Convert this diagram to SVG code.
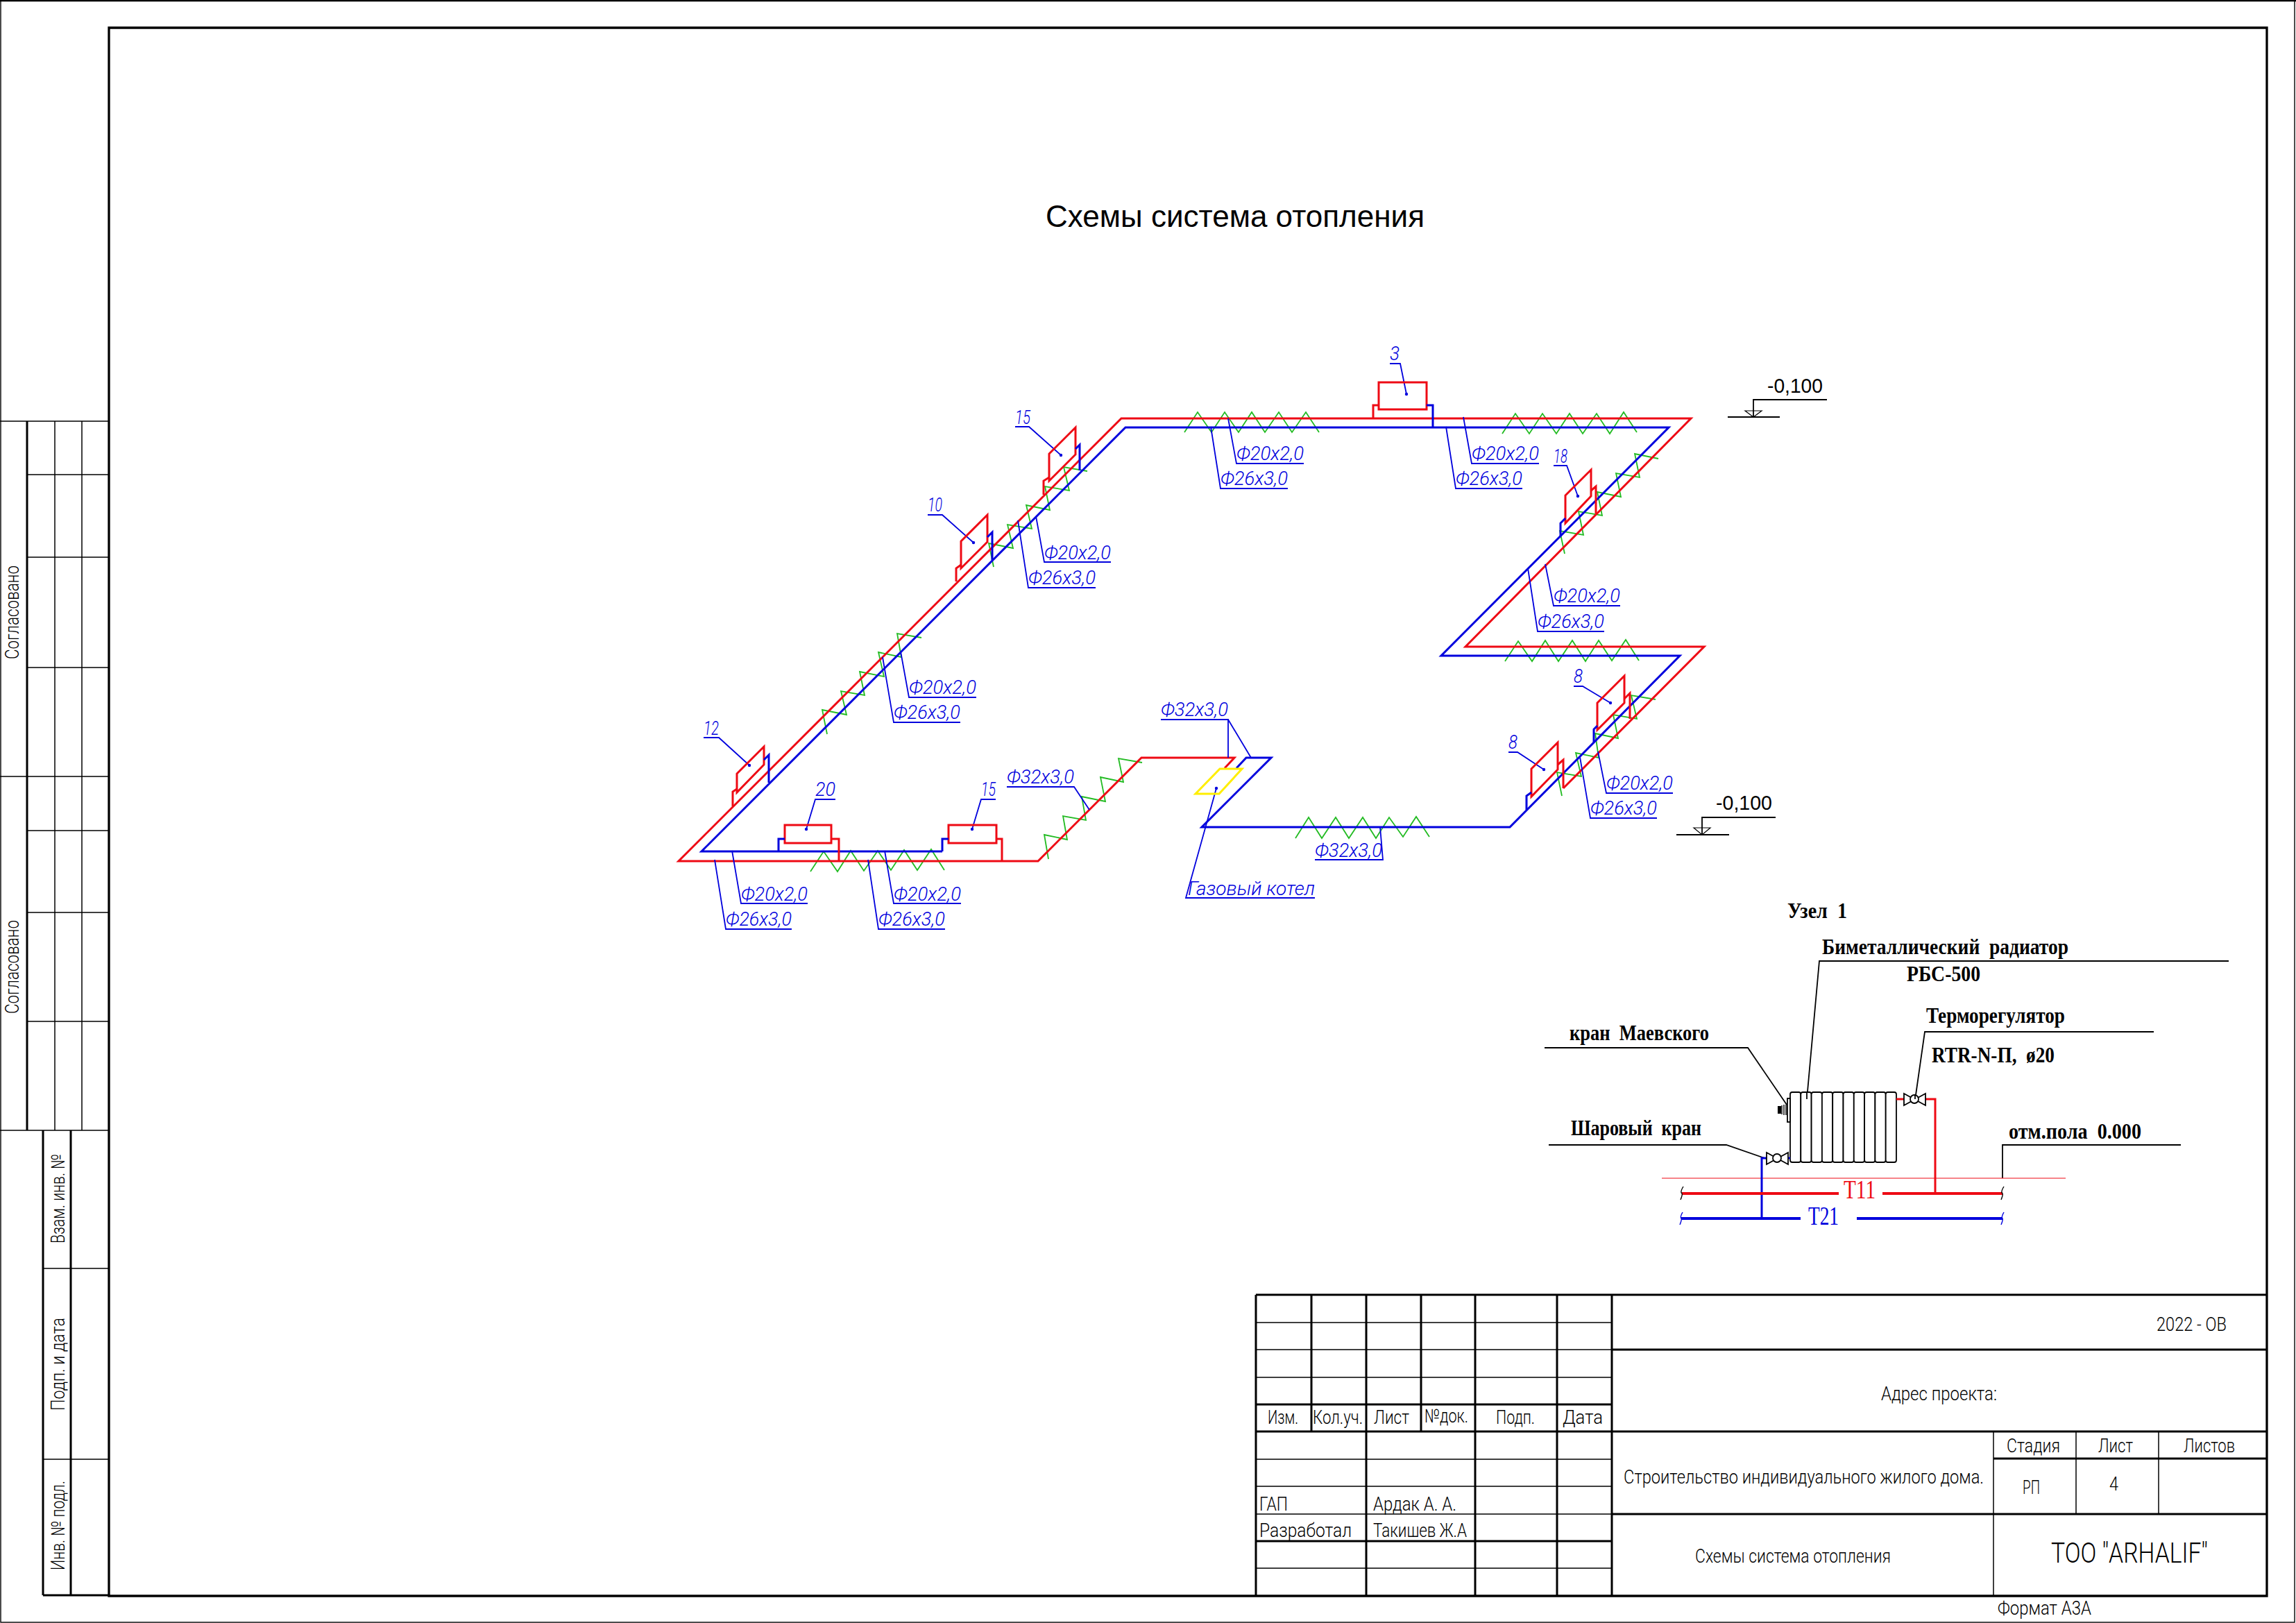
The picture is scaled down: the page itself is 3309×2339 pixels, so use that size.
<svg xmlns="http://www.w3.org/2000/svg" width="3309" height="2339" viewBox="0 0 3309 2339">
<style>
text{white-space:pre}
.k{fill:none;stroke:#000;stroke-width:3}
.m{fill:none;stroke:#000;stroke-width:1.5}
.rp{fill:none;stroke:#ee0a14;stroke-width:3;stroke-linejoin:miter}
.bp{fill:none;stroke:#0000dd;stroke-width:3}
.gz{fill:none;stroke:#22bb22;stroke-width:1.8}
.ld{fill:none;stroke:#0000dd;stroke-width:1.8}
.kl{fill:none;stroke:#000;stroke-width:1.8}
.l{font-family:"Roboto","Liberation Sans",sans-serif;font-style:italic;font-weight:300;font-size:27px;fill:#0000dd}
.t{font-family:"Roboto","Liberation Sans",sans-serif;font-weight:300;font-size:27px;fill:#000}
.d{font-family:"Liberation Serif",serif;font-weight:bold;font-size:32px;word-spacing:8px;fill:#000}
.e{font-family:"Liberation Sans",sans-serif;font-size:30px;fill:#000}
</style>
<defs>
<marker id="dot" markerUnits="userSpaceOnUse" markerWidth="6" markerHeight="6" refX="3" refY="3"><circle cx="3" cy="3" r="2.2" fill="#0000dd"/></marker>
</defs>
<g id="frame">
<rect fill="none" stroke="#000" stroke-width="1.4" x="1" y="1" width="3306" height="2337"/>
<path fill="none" stroke="#000" stroke-width="2.4" d="M0 1H3309"/>
<path fill="none" stroke="#000" stroke-width="3.3" d="M157 40H3267V2300H157Z"/>
</g>
<g id="side-stamp">
<path class="k" d="M39 607V1629M62 1629V2299M102 1629V2299M62 2299H157"/>
<path class="m" d="M0 607H157M0 1119H157M0 1629H157M79 607V1629M118 607V1629M39 684H157M39 803H157M39 962H157M39 1197H157M39 1315H157M39 1472H157M62 1828H157M62 2103H157"/>
<text class="t" transform="translate(27,950) rotate(-90)" textLength="135" lengthAdjust="spacingAndGlyphs">Согласовано</text>
<text class="t" transform="translate(27,1461) rotate(-90)" textLength="135" lengthAdjust="spacingAndGlyphs">Согласовано</text>
<text class="t" transform="translate(93,1792) rotate(-90)" textLength="129" lengthAdjust="spacingAndGlyphs">Взам. инв. №</text>
<text class="t" transform="translate(93,2033) rotate(-90)" textLength="134" lengthAdjust="spacingAndGlyphs">Подп. и дата</text>
<text class="t" transform="translate(93,2263) rotate(-90)" textLength="129" lengthAdjust="spacingAndGlyphs">Инв. № подл.</text>
</g>
<g id="title-block">
<path class="k" d="M1810 1866H3267M1810 2024H2323M1810 2063H3267M1810 2221H2323M2323 1945H3267M2323 2182H3267M2873 2102H3267M1810 1866V2300M1890 1866V2063M1969 1866V2300M2048 1866V2063M2126 1866V2300M2244 1866V2300M2323 1866V2300"/>
<path class="m" d="M1810 1906H2323M1810 1945H2323M1810 1985H2323M1810 2103H2323M1810 2142H2323M1810 2182H2323M1810 2260H2323M2873 2063V2300M2992 2063V2182M3111 2063V2182"/>
<text class="t" x="1827" y="2052" textLength="44" lengthAdjust="spacingAndGlyphs">Изм.</text>
<text class="t" x="1892" y="2052" textLength="72" lengthAdjust="spacingAndGlyphs">Кол.уч.</text>
<text class="t" x="1980" y="2052" textLength="51" lengthAdjust="spacingAndGlyphs">Лист</text>
<text class="t" x="2053" y="2050" textLength="63" lengthAdjust="spacingAndGlyphs">№док.</text>
<text class="t" x="2156" y="2052" textLength="56" lengthAdjust="spacingAndGlyphs">Подп.</text>
<text class="t" x="2252" y="2052" textLength="58" lengthAdjust="spacingAndGlyphs">Дата</text>
<text class="t" x="1815" y="2177" textLength="41" lengthAdjust="spacingAndGlyphs">ГАП</text>
<text class="t" x="1979" y="2177" textLength="120" lengthAdjust="spacingAndGlyphs">Ардак А. А.</text>
<text class="t" x="1815" y="2215" textLength="133" lengthAdjust="spacingAndGlyphs">Разработал</text>
<text class="t" x="1979" y="2215" textLength="135" lengthAdjust="spacingAndGlyphs">Такишев Ж.А</text>
<text class="t" x="3108" y="1918" textLength="101" lengthAdjust="spacingAndGlyphs">2022 - ОВ</text>
<text class="t" x="2711" y="2018" textLength="167" lengthAdjust="spacingAndGlyphs">Адрес проекта:</text>
<text class="t" x="2340" y="2138" textLength="519" lengthAdjust="spacingAndGlyphs">Строительство индивидуального жилого дома.</text>
<text class="t" x="2443" y="2252" textLength="282" lengthAdjust="spacingAndGlyphs">Схемы система отопления</text>
<text class="t" x="2892" y="2093" textLength="77" lengthAdjust="spacingAndGlyphs">Стадия</text>
<text class="t" x="3024" y="2093" textLength="50" lengthAdjust="spacingAndGlyphs">Лист</text>
<text class="t" x="3147" y="2093" textLength="74" lengthAdjust="spacingAndGlyphs">Листов</text>
<text class="t" x="2915" y="2153" textLength="25" lengthAdjust="spacingAndGlyphs">РП</text>
<text class="t" x="3040" y="2148" textLength="13" lengthAdjust="spacingAndGlyphs">4</text>
<text class="t" style="font-size:40px" x="2956" y="2252" textLength="226" lengthAdjust="spacingAndGlyphs">ТОО "ARHALIF"</text>
<text class="t" x="2879" y="2327" textLength="135" lengthAdjust="spacingAndGlyphs">Формат А3А</text>
</g>
<text id="title" x="1507" y="327" font-family="Liberation Sans, sans-serif" font-size="44" textLength="546" lengthAdjust="spacingAndGlyphs">Схемы система отопления</text>
<g id="elevation-top">
<text class="e" x="2547" y="566" textLength="80" lengthAdjust="spacingAndGlyphs">-0,100</text>
<path class="kl" d="M2633 576H2527V601M2490 601H2565"/>
<path fill="none" stroke="#000" stroke-width="1.2" d="M2515 592H2539L2527 601Z"/>
</g>
<g id="elevation-bottom">
<text class="e" x="2473" y="1167" textLength="81" lengthAdjust="spacingAndGlyphs">-0,100</text>
<path class="kl" d="M2559 1178H2453V1203M2416 1203H2492"/>
<path fill="none" stroke="#000" stroke-width="1.2" d="M2441 1193H2465L2453 1203Z"/>
</g>
<g id="connectors">
<g id="insulation">
<polyline class="gz" points="1707,623 1726,594 1746,623 1765,594 1785,623 1804,594 1823,623 1843,594 1862,623 1882,594 1901,623"/>
<polyline class="gz" points="2165,625 2184,596 2204,625 2223,596 2243,625 2262,596 2281,625 2301,596 2320,625 2340,594 2359,623"/>
<polyline class="gz" points="1168,1256 1187,1227 1207,1256 1226,1226 1245,1255 1265,1226 1284,1254 1303,1225 1322,1254 1342,1224 1361,1254"/>
<polyline class="gz" points="1867,1208 1886,1178 1905,1208 1925,1178 1944,1208 1964,1178 1983,1208 2002,1178 2022,1206 2041,1177 2060,1206"/>
<polyline class="gz" points="2169,953 2188,924 2208,953 2227,923 2246,953 2266,923 2285,953 2304,923 2323,952 2343,922 2362,952"/>
<polyline class="gz" points="1192,1058 1185,1023 1220,1030 1212,996 1246,1002 1239,968 1274,975 1266,940 1299,947 1293,913 1328,919"/>
<polyline class="gz" points="1432,817 1425,783 1460,790 1452,756 1487,762 1479,728 1513,735 1506,701 1541,707 1533,673 1567,679"/>
<polyline class="gz" points="2255,798 2248,765 2282,771 2275,737 2309,743 2302,709 2336,716 2329,682 2363,688 2356,654 2390,661"/>
<polyline class="gz" points="2251,1147 2244,1113 2279,1119 2271,1085 2304,1092 2299,1057 2332,1064 2325,1030 2359,1036 2351,1002 2386,1008"/>
<polyline class="gz" points="1511,1238 1505,1203 1538,1210 1532,1176 1565,1182 1559,1148 1593,1155 1586,1120 1619,1127 1612,1093 1646,1099"/>
</g>
<g id="supply-pipe">
<path class="rp" d="M1765 1107L1779 1092H1645L1496 1241H978L1616 603H2437L2112 932H2456L2253 1136"/>
</g>
<g id="return-pipe">
<path class="bp" d="M1358 1227H1011L1622 616H2405L2077 945H2421L2176 1192H1732L1832 1092H1796L1782 1107"/>
</g>
<g id="leaders">
<path class="ld" d="M1164 1302H1068L1055 1226"/>
<path class="ld" d="M1141 1339H1046L1030 1239"/>
<path class="ld" d="M1385 1302H1288L1275 1226"/>
<path class="ld" d="M1362 1339H1266L1251 1239"/>
<path class="ld" d="M1451 1134H1548L1570 1167"/>
<path class="ld" d="M1407 1005H1310L1298 939"/>
<path class="ld" d="M1384 1041H1288L1272 947"/>
<path class="ld" d="M1601 810H1505L1493 744"/>
<path class="ld" d="M1579 847H1482L1467 750"/>
<path class="ld" d="M1879 668H1782L1770 603"/>
<path class="ld" d="M1856 704H1759L1745 615"/>
<path class="ld" d="M2218 668H2121L2109 601"/>
<path class="ld" d="M2194 704H2098L2084 615"/>
<path class="ld" d="M2335 873H2239L2227 813"/>
<path class="ld" d="M2312 910H2216L2202 819"/>
<path class="ld" d="M2411 1143H2315L2303 1083"/>
<path class="ld" d="M2388 1179H2292L2277 1091"/>
<path class="ld" d="M1673 1037H1770V1092M1770 1037L1803 1092"/>
<path class="ld" d="M1895 1239H1993L1989 1192"/>
<path class="ld" marker-end="url(#dot)" d="M1895 1294H1709L1753 1136"/>
<path class="ld" marker-end="url(#dot)" d="M1014 1063H1036L1080 1103"/>
<path class="ld" marker-end="url(#dot)" d="M1337 742H1358L1403 782"/>
<path class="ld" marker-end="url(#dot)" d="M1463 615H1483L1529 656"/>
<path class="ld" marker-end="url(#dot)" d="M1204 1152H1175L1162 1195"/>
<path class="ld" marker-end="url(#dot)" d="M1435 1152H1414L1401 1195"/>
<path class="ld" marker-end="url(#dot)" d="M2003 524H2018L2027 568"/>
<path class="ld" marker-end="url(#dot)" d="M2239 671H2258L2274 715"/>
<path class="ld" marker-end="url(#dot)" d="M2268 989H2281L2321 1013"/>
<path class="ld" marker-end="url(#dot)" d="M2174 1084H2187L2225 1109"/>
</g>
</g>
<g id="boiler"><path d="M1758 1108H1790L1757 1144H1723Z" fill="none" stroke="#ffee00" stroke-width="3"/></g>
<g id="labels">
<text class="l" x="1068" y="1298" textLength="96" lengthAdjust="spacingAndGlyphs">Ф20х2,0</text>
<text class="l" x="1046" y="1334" textLength="95" lengthAdjust="spacingAndGlyphs">Ф26х3,0</text>
<text class="l" x="1288" y="1298" textLength="97" lengthAdjust="spacingAndGlyphs">Ф20х2,0</text>
<text class="l" x="1266" y="1334" textLength="96" lengthAdjust="spacingAndGlyphs">Ф26х3,0</text>
<text class="l" x="1451" y="1129" textLength="97" lengthAdjust="spacingAndGlyphs">Ф32х3,0</text>
<text class="l" x="1310" y="1000" textLength="97" lengthAdjust="spacingAndGlyphs">Ф20х2,0</text>
<text class="l" x="1288" y="1036" textLength="96" lengthAdjust="spacingAndGlyphs">Ф26х3,0</text>
<text class="l" x="1505" y="806" textLength="96" lengthAdjust="spacingAndGlyphs">Ф20х2,0</text>
<text class="l" x="1482" y="842" textLength="97" lengthAdjust="spacingAndGlyphs">Ф26х3,0</text>
<text class="l" x="1782" y="663" textLength="97" lengthAdjust="spacingAndGlyphs">Ф20х2,0</text>
<text class="l" x="1759" y="699" textLength="97" lengthAdjust="spacingAndGlyphs">Ф26х3,0</text>
<text class="l" x="2121" y="663" textLength="97" lengthAdjust="spacingAndGlyphs">Ф20х2,0</text>
<text class="l" x="2098" y="699" textLength="96" lengthAdjust="spacingAndGlyphs">Ф26х3,0</text>
<text class="l" x="2239" y="868" textLength="96" lengthAdjust="spacingAndGlyphs">Ф20х2,0</text>
<text class="l" x="2216" y="905" textLength="96" lengthAdjust="spacingAndGlyphs">Ф26х3,0</text>
<text class="l" x="2315" y="1138" textLength="96" lengthAdjust="spacingAndGlyphs">Ф20х2,0</text>
<text class="l" x="2292" y="1174" textLength="96" lengthAdjust="spacingAndGlyphs">Ф26х3,0</text>
<text class="l" x="1673" y="1032" textLength="97" lengthAdjust="spacingAndGlyphs">Ф32х3,0</text>
<text class="l" x="1895" y="1235" textLength="97" lengthAdjust="spacingAndGlyphs">Ф32х3,0</text>
<text class="l" x="1712" y="1290" textLength="183" lengthAdjust="spacingAndGlyphs">Газовый котел</text>
<text class="l" x="1014" y="1059" textLength="22" lengthAdjust="spacingAndGlyphs">12</text>
<text class="l" x="1337" y="737" textLength="21" lengthAdjust="spacingAndGlyphs">10</text>
<text class="l" x="1463" y="611" textLength="22" lengthAdjust="spacingAndGlyphs">15</text>
<text class="l" x="1175" y="1147" textLength="29" lengthAdjust="spacingAndGlyphs">20</text>
<text class="l" x="1414" y="1147" textLength="21" lengthAdjust="spacingAndGlyphs">15</text>
<text class="l" x="2003" y="519" textLength="14" lengthAdjust="spacingAndGlyphs">3</text>
<text class="l" x="2239" y="667" textLength="20" lengthAdjust="spacingAndGlyphs">18</text>
<text class="l" x="2268" y="984" textLength="13" lengthAdjust="spacingAndGlyphs">8</text>
<text class="l" x="2174" y="1079" textLength="13" lengthAdjust="spacingAndGlyphs">8</text>
</g>
<g id="radiator-12">
<path class="rp" d="M1062 1115L1101 1076V1102L1062 1142Z"/>
<path class="rp" d="M1056 1162V1141L1062 1137"/>
<path class="bp" d="M1108 1128V1088L1101 1095"/>
</g>
<g id="radiator-10">
<path class="rp" d="M1385 780L1423 742V781L1385 819Z"/>
<path class="rp" d="M1378 838V819L1385 814"/>
<path class="bp" d="M1430 807V767L1423 774"/>
</g>
<g id="radiator-15a">
<path class="rp" d="M1512 654L1550 616V655L1512 693Z"/>
<path class="rp" d="M1504 713V693L1512 688"/>
<path class="bp" d="M1556 678V641L1550 647"/>
</g>
<g id="radiator-20">
<rect class="rp" x="1131" y="1189" width="67" height="26"/>
<path class="bp" d="M1122 1227V1209H1131"/>
<path class="rp" d="M1198 1209H1209V1241"/>
</g>
<g id="radiator-15b">
<rect class="rp" x="1367" y="1189" width="69" height="26"/>
<path class="bp" d="M1358 1227V1209H1367"/>
<path class="rp" d="M1436 1209H1444V1241"/>
</g>
<g id="radiator-3">
<rect class="rp" x="1987" y="551" width="69" height="39"/>
<path class="rp" d="M1979 602V584H1987"/>
<path class="bp" d="M2065 616V584H2056"/>
</g>
<g id="radiator-18">
<path class="rp" d="M2256 714L2293 677V715L2256 754Z"/>
<path class="rp" d="M2300 740V701L2293 707"/>
<path class="bp" d="M2249 773V754L2256 747"/>
</g>
<g id="radiator-8a">
<path class="rp" d="M2302 1013L2341 974V1013L2302 1052Z"/>
<path class="rp" d="M2349 1036V999L2341 1007"/>
<path class="bp" d="M2297 1070V1051L2302 1046"/>
</g>
<g id="radiator-8b">
<path class="rp" d="M2207 1108L2245 1070V1109L2207 1148Z"/>
<path class="rp" d="M2253 1136V1095L2245 1102"/>
<path class="bp" d="M2200 1167V1147L2207 1142"/>
</g>
<g id="detail-node">
<text class="d" x="2576" y="1323" textLength="86" lengthAdjust="spacingAndGlyphs">Узел 1</text>
<text class="d" x="2626" y="1375" textLength="355" lengthAdjust="spacingAndGlyphs">Биметаллический радиатор</text>
<text class="d" x="2748" y="1414" textLength="106" lengthAdjust="spacingAndGlyphs">РБС-500</text>
<text class="d" x="2776" y="1474" textLength="200" lengthAdjust="spacingAndGlyphs">Терморегулятор</text>
<text class="d" x="2784" y="1531" textLength="177" lengthAdjust="spacingAndGlyphs">RTR-N-П, ø20</text>
<text class="d" x="2262" y="1499" textLength="201" lengthAdjust="spacingAndGlyphs">кран Маевского</text>
<text class="d" x="2264" y="1636" textLength="188" lengthAdjust="spacingAndGlyphs">Шаровый кран</text>
<text class="d" x="2895" y="1641" textLength="191" lengthAdjust="spacingAndGlyphs">отм.пола 0.000</text>
<text x="2657" y="1727" font-family="Liberation Serif, serif" font-size="38" fill="#ee0a14" textLength="46" lengthAdjust="spacingAndGlyphs">Т11</text>
<text x="2606" y="1765" font-family="Liberation Serif, serif" font-size="38" fill="#0000dd" textLength="44" lengthAdjust="spacingAndGlyphs">Т21</text>
<path class="kl" d="M3212 1385H2622L2604 1584"/>
<path class="kl" d="M3104 1487H2774L2761 1578"/>
<path class="kl" d="M2226 1510H2519L2575 1592"/>
<path class="kl" d="M2232 1650H2488L2546 1670"/>
<path class="kl" d="M3143 1650H2886V1698"/>
<path fill="none" stroke="#ee0a14" stroke-width="1" d="M2395 1698H2977"/>
<g fill="#fff" stroke="#000" stroke-width="1.8">
<rect x="2580" y="1574" width="15.3" height="101" rx="3"/>
<rect x="2595.3" y="1574" width="15.3" height="101" rx="3"/>
<rect x="2610.6" y="1574" width="15.3" height="101" rx="3"/>
<rect x="2625.9" y="1574" width="15.3" height="101" rx="3"/>
<rect x="2641.2" y="1574" width="15.3" height="101" rx="3"/>
<rect x="2656.5" y="1574" width="15.3" height="101" rx="3"/>
<rect x="2671.8" y="1574" width="15.3" height="101" rx="3"/>
<rect x="2687.1" y="1574" width="15.3" height="101" rx="3"/>
<rect x="2702.4" y="1574" width="15.3" height="101" rx="3"/>
<rect x="2717.7" y="1574" width="15.3" height="101" rx="3"/>
<rect x="2576" y="1583" width="4" height="34"/>
</g>
<path class="kl" d="M2604 1574V1584"/>
<rect x="2562" y="1594" width="5" height="11" fill="#000"/>
<path fill="none" stroke="#000" stroke-width="1.4" d="M2568 1593V1606M2571 1592V1607M2574 1592V1607"/>
<path class="rp" d="M2733 1584H2745M2775 1584H2789V1720"/>
<path fill="#fff" stroke="#000" stroke-width="1.8" d="M2744 1576L2775 1593V1576L2744 1593Z"/>
<circle cx="2759" cy="1584" r="6" fill="#fff" stroke="#000" stroke-width="1.8"/>
<path class="kl" d="M2760 1578V1584"/>
<path class="bp" d="M2577 1669H2580"/>
<path class="bp" d="M2539 1756V1669H2546"/>
<path fill="#fff" stroke="#000" stroke-width="1.8" d="M2546 1661L2577 1678V1661L2546 1678Z"/>
<circle cx="2561" cy="1669" r="6" fill="#fff" stroke="#000" stroke-width="1.8"/>
<path fill="none" stroke="#ee0a14" stroke-width="4" d="M2424 1720H2650M2713 1720H2886"/>
<path fill="none" stroke="#0000dd" stroke-width="4" d="M2423 1756H2595M2676 1756H2886"/>
<path fill="none" stroke="#000" stroke-width="1.4" d="M2426 1710Q2421 1718 2424 1720Q2425 1722 2422 1729M2888 1710Q2883 1718 2886 1720Q2887 1722 2884 1729"/>
<path fill="none" stroke="#0000dd" stroke-width="1.4" d="M2425 1747Q2421 1754 2423 1756Q2424 1758 2421 1765M2888 1747Q2884 1754 2886 1756Q2887 1758 2884 1765"/>
</g>
</svg>
